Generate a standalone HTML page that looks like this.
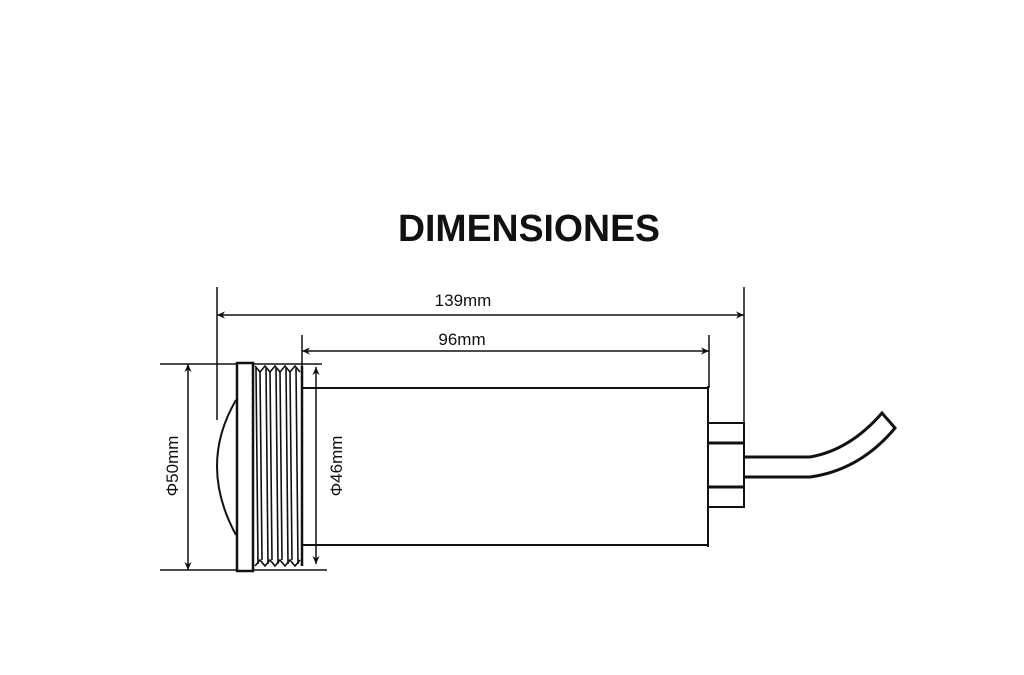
<!DOCTYPE html>
<html><head><style>
html,body{margin:0;padding:0;background:#fff;}
svg{display:block;}
</style></head><body>
<svg width="1024" height="675" viewBox="0 0 1024 675" xmlns="http://www.w3.org/2000/svg">
<defs>
<marker id="a" viewBox="0 0 10 10" refX="10" refY="5" markerWidth="8" markerHeight="8" orient="auto-start-reverse" markerUnits="userSpaceOnUse">
<path d="M0,0.5 L10,5 L0,9.5 L3,5 Z" fill="#111" stroke="none"/>
</marker>
</defs>
<text x="529" y="241" text-anchor="middle" font-family="Liberation Sans, sans-serif" font-weight="bold" font-size="38" fill="#111" textLength="262" lengthAdjust="spacingAndGlyphs">DIMENSIONES</text>
<g stroke="#111" fill="none">
<line x1="217" y1="287" x2="217" y2="420" stroke-width="1.5"/>
<line x1="744" y1="287" x2="744" y2="423" stroke-width="1.5"/>
<line x1="302" y1="335" x2="302" y2="366" stroke-width="1.5"/>
<line x1="709" y1="335" x2="709" y2="388" stroke-width="1.5"/>
<line x1="217" y1="315" x2="744" y2="315" stroke-width="1.5" marker-start="url(#a)" marker-end="url(#a)"/>
<line x1="302" y1="351" x2="709" y2="351" stroke-width="1.5" marker-start="url(#a)" marker-end="url(#a)"/>
<line x1="160" y1="364" x2="237" y2="364" stroke-width="1.5"/>
<line x1="160" y1="570" x2="237" y2="570" stroke-width="1.5"/>
<line x1="253" y1="364" x2="322" y2="364" stroke-width="1.5"/>
<line x1="253" y1="570" x2="327" y2="570" stroke-width="1.5"/>
<line x1="188" y1="364" x2="188" y2="570" stroke-width="1.5" marker-start="url(#a)" marker-end="url(#a)"/>
<line x1="316" y1="367" x2="316" y2="564" stroke-width="1.5" marker-start="url(#a)" marker-end="url(#a)"/>
<path d="M236,400 Q198,465 236,535" stroke-width="2"/>
<rect x="237" y="363" width="16" height="208" stroke-width="2.5"/>
<g stroke-width="1.6">
<path d="M255,366 L260,372 L265,366 L270,372 L275,366 L280,372 L285,366 L290,372 L295,366 L300,372"/>
<path d="M255,566 L260,560 L265,566 L270,560 L275,566 L280,560 L285,566 L290,560 L295,566 L300,560"/>
<line x1="256" y1="368" x2="258" y2="564"/>
<line x1="260" y1="372" x2="262" y2="560"/>
<line x1="266" y1="368" x2="268" y2="564"/>
<line x1="270" y1="372" x2="272" y2="560"/>
<line x1="276" y1="368" x2="278" y2="564"/>
<line x1="280" y1="372" x2="282" y2="560"/>
<line x1="286" y1="368" x2="288" y2="564"/>
<line x1="290" y1="372" x2="292" y2="560"/>
<line x1="296" y1="368" x2="298" y2="564"/>
</g>
<line x1="302" y1="366" x2="302" y2="566" stroke-width="2.5"/>
<line x1="302" y1="388" x2="709" y2="388" stroke-width="2"/>
<line x1="302" y1="545" x2="709" y2="545" stroke-width="2"/>
<line x1="708" y1="386" x2="708" y2="547" stroke-width="2"/>
<rect x="708" y="423" width="36" height="84" stroke-width="2"/>
<line x1="708" y1="443" x2="744" y2="443" stroke-width="3"/>
<line x1="708" y1="487" x2="744" y2="487" stroke-width="3"/>
<path d="M745,457 L810,457 Q850,450 882,413 L895,428 Q860,470 810,477 L745,477" stroke-width="3" stroke-linejoin="miter"/>
</g>
<g font-family="Liberation Sans, sans-serif" font-size="17" fill="#111">
<text x="463" y="306" text-anchor="middle">139mm</text>
<text x="462" y="345" text-anchor="middle">96mm</text>
<text transform="translate(178,466) rotate(-90)" text-anchor="middle">Φ50mm</text>
<text transform="translate(342,466) rotate(-90)" text-anchor="middle">Φ46mm</text>
</g>
</svg>
</body></html>
